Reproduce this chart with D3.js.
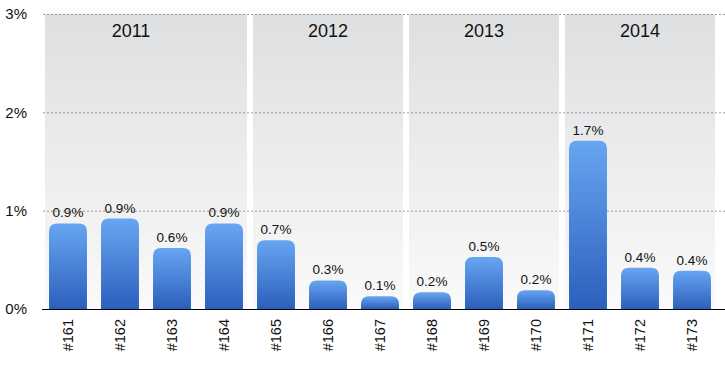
<!DOCTYPE html>
<html lang="en">
  <head>
    <meta charset="UTF-8" />
    <title>Rate by issue</title>
    <style>
      body { margin: 0; background: #fff; }
      text { font-family: "Liberation Sans", Arial, sans-serif; fill: #111; }
    </style>
  </head>
  <body>
    <svg id="svg" width="725" height="365"></svg>
    <script src="https://cdn.jsdelivr.net/npm/d3@7"></script>
    <script>
      // data
      const issues = ["#161", "#162", "#163", "#164", "#165", "#166", "#167", "#168", "#169", "#170", "#171", "#172", "#173"];
      const rates = [0.87, 0.92, 0.62, 0.87, 0.70, 0.29, 0.13, 0.17, 0.53, 0.19, 1.71, 0.42, 0.39];
      const rateLabels = ["0.9%", "0.9%", "0.6%", "0.9%", "0.7%", "0.3%", "0.1%", "0.2%", "0.5%", "0.2%", "1.7%", "0.4%", "0.4%"];
      const years = ["2011", "2012", "2013", "2014"];
      const yearStart = ["#161", "#165", "#168", "#171"];
      const yearEnd = ["#164", "#167", "#170", "#173"];
      const yTicks = [0, 1, 2, 3];

      const svg = d3.select("#svg");
      const plotLeft = 42, plotRight = 718, plotTop = 14, plotBottom = 309;

      const x = d3.scaleBand().domain(issues).range([plotLeft, plotRight]).paddingInner(0.27).paddingOuter(0.135);
      const y = d3.scaleLinear().domain([0, 3]).range([plotBottom, plotTop]);

      const defs = svg.append("defs");
      const bg = defs.append("linearGradient").attr("id", "bg")
        .attr("gradientUnits", "userSpaceOnUse")
        .attr("x1", 0).attr("x2", 0).attr("y1", plotTop).attr("y2", plotBottom);
      bg.append("stop").attr("offset", "0%").attr("stop-color", "#dedfe1");
      bg.append("stop").attr("offset", "100%").attr("stop-color", "#fafafa");

      const bar = defs.append("linearGradient").attr("id", "bar")
        .attr("x1", 0).attr("x2", 0).attr("y1", 0).attr("y2", 1);
      bar.append("stop").attr("offset", "0%").attr("stop-color", "#67a6f2");
      bar.append("stop").attr("offset", "100%").attr("stop-color", "#2b5fbc");

      // year bands
      const step = x.step();
      const bandL = (i) => x(yearStart[i]) - (step - x.bandwidth()) / 2 + 3;
      const bandR = (i) => x(yearEnd[i]) + x.bandwidth() + (step - x.bandwidth()) / 2 - 3;
      svg.append("g").selectAll("rect").data(years).join("rect")
        .attr("x", (d, i) => bandL(i))
        .attr("width", (d, i) => bandR(i) - bandL(i))
        .attr("y", plotTop)
        .attr("height", plotBottom - plotTop)
        .attr("fill", "url(#bg)");

      // first label sits a bit left of its band centre in the original
      svg.append("g").selectAll("text").data(years).join("text")
        .attr("x", (d, i) => (bandL(i) + bandR(i)) / 2 - (i === 0 ? 15 : 0))
        .attr("y", 37)
        .attr("text-anchor", "middle")
        .style("font-size", "18px")
        .text((d) => d);

      // grid lines
      svg.append("g").selectAll("line").data(yTicks.filter((t) => t > 0)).join("line")
        .attr("x1", 43).attr("x2", 725)
        .attr("y1", (d) => y(d) + 0.5).attr("y2", (d) => y(d) + 0.5)
        .attr("stroke", "#999")
        .attr("stroke-dasharray", "2,2");

      // y tick labels
      svg.append("g").selectAll("text").data(yTicks).join("text")
        .attr("x", 27)
        .attr("y", (d) => y(d))
        .attr("dy", "0.36em")
        .attr("text-anchor", "end")
        .style("font-size", "15px")
        .text((d) => d + "%");

      // bars with rounded tops
      const r = 8;
      svg.append("g").selectAll("path").data(rates).join("path")
        .attr("fill", "url(#bar)")
        .attr("d", (d, i) => {
          const x0 = x(issues[i]), w = x.bandwidth();
          const y0 = y(d), rr = Math.min(r, (plotBottom - y0));
          return `M${x0},${plotBottom}V${y0 + rr}Q${x0},${y0} ${x0 + rr},${y0}H${x0 + w - rr}Q${x0 + w},${y0} ${x0 + w},${y0 + rr}V${plotBottom}Z`;
        });

      // value labels
      svg.append("g").selectAll("text").data(rates).join("text")
        .attr("x", (d, i) => x(issues[i]) + x.bandwidth() / 2)
        .attr("y", (d) => y(d) - 6)
        .attr("text-anchor", "middle")
        .style("font-size", "13.5px")
        .text((d, i) => rateLabels[i]);

      // baseline
      svg.append("line")
        .attr("x1", 42).attr("x2", 725)
        .attr("y1", plotBottom + 0.5).attr("y2", plotBottom + 0.5)
        .attr("stroke", "#000");

      // x labels
      svg.append("g").selectAll("text").data(issues).join("text")
        .attr("transform", (d) => `translate(${x(d) + x.bandwidth() / 2},319) rotate(-90)`)
        .attr("dy", "0.36em")
        .attr("text-anchor", "end")
        .style("font-size", "14.5px")
        .text((d) => d);
    </script>
  </body>
</html>
